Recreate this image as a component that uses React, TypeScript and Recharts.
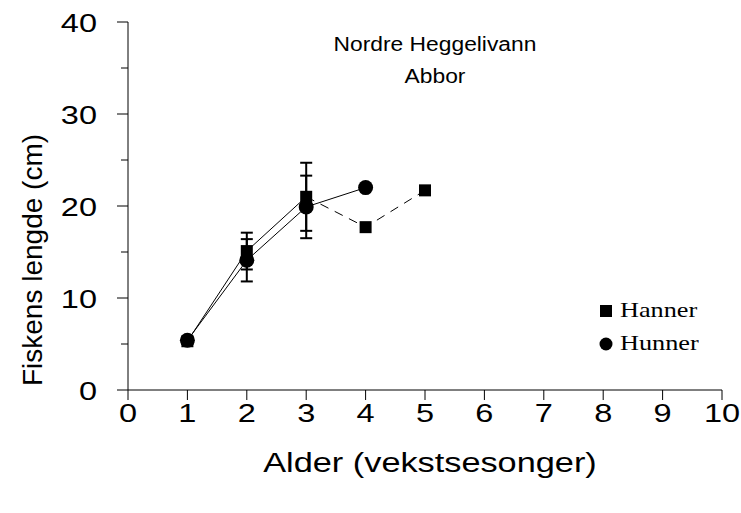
import React from 'react';
import { ComposedChart, XAxis, YAxis, Line, Scatter, ErrorBar } from 'recharts';

// ---- data ----
const ages = [1, 2, 3, 4, 5];
const hannerMean = [5.3, 15.1, 21.0, 17.7, 21.7];
const hannerSd: (number | null)[] = [0.3, 2.0, 3.7, null, null];
const hunnerAges = [1, 2, 3, 4];
const hunnerMean = [5.4, 14.1, 19.9, 22.0];
const hunnerSd: (number | null)[] = [0.3, 2.3, 3.4, null];
const hannerSolidUpTo = 3; // solid line up to age 3, dashed after

const xTicks = [0, 1, 2, 3, 4, 5, 6, 7, 8, 9, 10];
const yTicks = [0, 5, 10, 15, 20, 25, 30, 35, 40];
const yLabelTicks = [0, 10, 20, 30, 40];

const titleLines = ['Nordre Heggelivann', 'Abbor'];
const xTitle = 'Alder (vekstsesonger)';
const yTitle = 'Fiskens lengde (cm)';
const legendNames = ['Hanner', 'Hunner'];

// ---- derived tables ----
const hannerPts = ages.map((x, i) => ({ x, y: hannerMean[i], err: hannerSd[i] }));
const hunnerPts = hunnerAges.map((x, i) => ({ x, y: hunnerMean[i], err: hunnerSd[i] }));
const hannerSolid = hannerPts.filter((p) => p.x <= hannerSolidUpTo);
const hannerDashed = hannerPts.filter((p) => p.x >= hannerSolidUpTo);

// ---- layout ----
const W = 741;
const H = 513;
const PL = 128;
const PT = 22;
const PR = 722;
const PB = 390;
const SANS = '"Liberation Sans", Arial, sans-serif';
const SERIF = '"Liberation Serif", "Times New Roman", serif';
const STRETCH = 1.25;

const YTick = (props: any) => {
  const { y, payload } = props;
  const v = payload.value;
  const major = yLabelTicks.includes(v);
  return (
    <g>
      <line x1={PL - (major ? 11 : 7)} x2={PL} y1={y} y2={y} stroke="#000" strokeWidth={1} />
      {major && (
        <text
          transform={`translate(97, ${y + 9.5}) scale(${STRETCH}, 1)`}
          textAnchor="end"
          fontSize={26}
          fontFamily={SANS}
          fill="#000"
        >
          {v}
        </text>
      )}
    </g>
  );
};

const XTick = (props: any) => {
  const { x, payload } = props;
  return (
    <g>
      <line x1={x} x2={x} y1={PB} y2={PB + 10} stroke="#000" strokeWidth={1} />
      <text
        transform={`translate(${x}, 422) scale(${STRETCH}, 1)`}
        textAnchor="middle"
        fontSize={26}
        fontFamily={SANS}
        fill="#000"
      >
        {payload.value}
      </text>
    </g>
  );
};

const SquareShape = (props: any) => {
  const { cx, cy } = props;
  if (cx == null || cy == null) return <g />;
  return <rect x={cx - 6} y={cy - 6} width={12} height={12} fill="#000" />;
};
const CircleShape = (props: any) => {
  const { cx, cy } = props;
  if (cx == null || cy == null) return <g />;
  return <circle cx={cx} cy={cy} r={7.5} fill="#000" />;
};

export default function App() {
  return (
    <div style={{ position: 'absolute', left: 0, top: 0, width: W, height: H, background: '#fff' }}>
      <ComposedChart width={W} height={H} margin={{ top: PT, right: W - PR, bottom: 0, left: 0 }}>
        <XAxis
          type="number"
          dataKey="x"
          domain={[0, 10]}
          ticks={xTicks}
          interval={0}
          allowDataOverflow
          height={H - PB}
          axisLine={{ stroke: '#000', strokeWidth: 1 }}
          tickLine={false}
          tick={<XTick />}
          label={{
            content: () => (
              <text
                transform={`translate(430, 472) scale(1.27, 1)`}
                textAnchor="middle"
                fontSize={27}
                fontFamily={SANS}
                fill="#000"
              >
                {xTitle}
              </text>
            ),
          }}
        />
        <YAxis
          type="number"
          dataKey="y"
          domain={[0, 40]}
          ticks={yTicks}
          interval={0}
          allowDataOverflow
          width={PL}
          axisLine={{ stroke: '#000', strokeWidth: 1 }}
          tickLine={false}
          tick={<YTick />}
          label={{
            content: () => (
              <text
                transform={`translate(42, 260) rotate(-90)`}
                textAnchor="middle"
                fontSize={28}
                fontFamily={SANS}
                fill="#000"
              >
                {yTitle}
              </text>
            ),
          }}
        />
        <Line data={hannerSolid} dataKey="y" stroke="#000" strokeWidth={1} dot={false} isAnimationActive={false} legendType="none" />
        <Line data={hannerDashed} dataKey="y" stroke="#000" strokeWidth={1} strokeDasharray="9 7" dot={false} isAnimationActive={false} legendType="none" />
        <Line data={hunnerPts} dataKey="y" stroke="#000" strokeWidth={1} dot={false} isAnimationActive={false} legendType="none" />
        <Scatter data={hannerPts} dataKey="y" name={legendNames[0]} shape={<SquareShape />} isAnimationActive={false}>
          <ErrorBar dataKey="err" direction="y" width={6} stroke="#000" strokeWidth={2} />
        </Scatter>
        <Scatter data={hunnerPts} dataKey="y" name={legendNames[1]} shape={<CircleShape />} isAnimationActive={false}>
          <ErrorBar dataKey="err" direction="y" width={6} stroke="#000" strokeWidth={2} />
        </Scatter>
      </ComposedChart>
      <div
        style={{
          position: 'absolute',
          left: 335,
          top: 28,
          width: 200,
          textAlign: 'center',
          fontFamily: SANS,
          fontSize: 20,
          lineHeight: '32px',
          color: '#000',
          transform: 'scaleX(1.14)',
        }}
      >
        {titleLines.map((t) => (
          <div key={t}>{t}</div>
        ))}
      </div>
      <div
        style={{
          position: 'absolute',
          left: 598,
          top: 294,
          fontFamily: SERIF,
          fontSize: 21,
          lineHeight: '33px',
          color: '#000',
        }}
      >
        {legendNames.map((n, i) => (
          <div key={n} style={{ display: 'flex', alignItems: 'center', whiteSpace: 'nowrap' }}>
            <svg width={16} height={16} style={{ marginRight: 6 }}>
              {i === 0 ? (
                <rect x={2} y={2} width={12} height={12} fill="#000" />
              ) : (
                <circle cx={8} cy={8} r={6.5} fill="#000" />
              )}
            </svg>
            <span style={{ display: 'inline-block', transform: 'scaleX(1.25)', transformOrigin: 'left center' }}>{n}</span>
          </div>
        ))}
      </div>
    </div>
  );
}
